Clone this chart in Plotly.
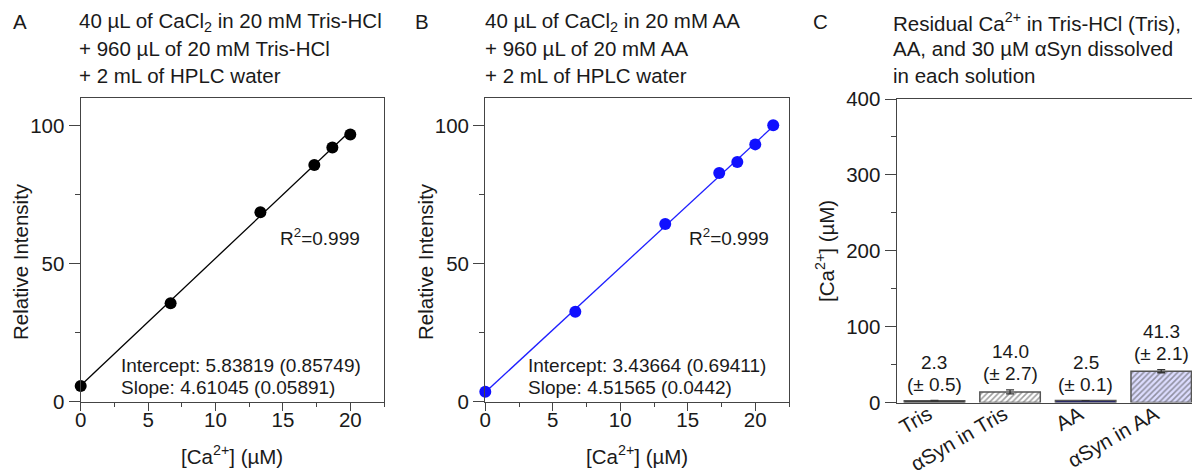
import plotly.graph_objects as go

# ---------------- data ----------------
conc_A = [0, 6.67, 13.33, 17.33, 18.67, 20]
int_A = [5.7, 35.7, 68.6, 85.7, 92.1, 96.8]
fit_A_intercept = 5.83819
fit_A_slope = 4.61045

conc_B = [0, 6.67, 13.33, 17.33, 18.67, 20, 21.33]
int_B = [3.6, 32.6, 64.4, 82.8, 86.8, 93.2, 100.1]
fit_B_intercept = 3.43664
fit_B_slope = 4.51565

categories_C = ["Tris", "αSyn in Tris", "AA", "αSyn in AA"]
values_C = [2.3, 14.0, 2.5, 41.3]
errors_C = [0.5, 2.7, 0.1, 2.1]

x_ticks_AB = [0, 5, 10, 15, 20]
y_ticks_AB = [0, 50, 100]
y_ticks_C = [0, 100, 200, 300, 400]

# ---------------- helpers ----------------
OFF = 8  # page body margin
W, H = 1200 - OFF, 471 - OFF
FONT = "Liberation Sans, Arial, sans-serif"
TXT = "#1a1a1a"
AXC = "#444444"
FS_TICK = 20.5
FS_ANN = 19
FS_TITLE = 20.5


def px(x):
    return (x - OFF) / W


def py(y):
    return 1 - (y - OFF) / H


fig = go.Figure()

# Panel A
xa_fit = [min(conc_A), max(conc_A)]
fig.add_trace(go.Scatter(x=xa_fit, y=[fit_A_intercept + fit_A_slope * v for v in xa_fit],
                         mode="lines", line=dict(color="black", width=1.3),
                         xaxis="x", yaxis="y", showlegend=False, hoverinfo="skip"))
fig.add_trace(go.Scatter(x=conc_A, y=int_A, mode="markers",
                         marker=dict(color="black", size=12),
                         xaxis="x", yaxis="y", showlegend=False, cliponaxis=False))

# Panel B
xb_fit = [min(conc_B), max(conc_B)]
fig.add_trace(go.Scatter(x=xb_fit, y=[fit_B_intercept + fit_B_slope * v for v in xb_fit],
                         mode="lines", line=dict(color="#1f1fff", width=1.3),
                         xaxis="x2", yaxis="y2", showlegend=False, hoverinfo="skip"))
fig.add_trace(go.Scatter(x=conc_B, y=int_B, mode="markers",
                         marker=dict(color="#1010ff", size=12),
                         xaxis="x2", yaxis="y2", showlegend=False, cliponaxis=False))

# Panel C
bar_fill = ["#000000", "#ffffff", "#00007a", "#ddddff"]
pat_shape = ["", "/", "", "/"]
pat_fg = ["#000000", "#7a7a7a", "#00007a", "#3c3cff"]
pat_bg = ["#000000", "#ffffff", "#00007a", "#e4e4ff"]
fig.add_trace(go.Bar(x=categories_C, y=values_C,
                     marker=dict(color=bar_fill,
                                 line=dict(color="#555555", width=1.5),
                                 pattern=dict(shape=pat_shape, fgcolor=pat_fg, bgcolor=pat_bg,
                                              size=4, solidity=0.4, fillmode="overlay")),
                     error_y=dict(type="data", array=errors_C, color="#333333",
                                  thickness=1.3, width=4),
                     xaxis="x3", yaxis="y3", showlegend=False))

dom_A = [px(80.7), px(384)]
dom_B = [px(485.3), px(789)]
dom_C = [px(896.7), px(1199)]
dom_y = [py(401.7), py(98)]
dom_yC = [py(402.5), py(99)]

base_axis = dict(showline=True, linecolor=AXC, linewidth=1.4, mirror=True,
                 ticks="outside", tickwidth=1.3, tickcolor=AXC,
                 showgrid=False, zeroline=False, automargin=False,
                 tickfont=dict(family=FONT, size=FS_TICK, color=TXT))
x_axis_style = dict(base_axis, ticklen=8, ticklabelstandoff=-9,
                    minor=dict(dtick=2.5, ticks="outside", ticklen=4, tickcolor=AXC))
y_axis_style = dict(base_axis, ticklen=11,
                    minor=dict(dtick=25, ticks="outside", ticklen=5, tickcolor=AXC))

fig.update_layout(
    template="none",
    width=W, height=H, margin=dict(l=0, r=0, t=0, b=0, pad=0, autoexpand=False),
    paper_bgcolor="white", plot_bgcolor="white",
    bargap=0.2,
    xaxis=dict(domain=dom_A, anchor="y", range=[0, 22.5], tickvals=x_ticks_AB, **x_axis_style),
    yaxis=dict(domain=dom_y, anchor="x", range=[0, 110], tickvals=y_ticks_AB, **y_axis_style),
    xaxis2=dict(domain=dom_B, anchor="y2", range=[0, 22.5], tickvals=x_ticks_AB, **x_axis_style),
    yaxis2=dict(domain=dom_y, anchor="x2", range=[0, 110], tickvals=y_ticks_AB, **y_axis_style),
    xaxis3=dict(domain=dom_C, anchor="y3", range=[-0.5, 3.5], type="category",
                showline=True, linecolor=AXC, linewidth=1.4, mirror=True, ticks="",
                tickangle=-30, showgrid=False, zeroline=False, automargin=False,
                ticklabelstandoff=-9, ticklabelshift=-6,
                tickfont=dict(family=FONT, size=FS_TICK, color=TXT)),
    yaxis3=dict(domain=dom_yC, anchor="x3", range=[0, 400], tickvals=y_ticks_C,
                **dict(y_axis_style, minor=dict(dtick=50, ticks="outside", ticklen=5, tickcolor=AXC))),
)

ann = []


def txt(x, y, s, xanchor="left", size=FS_ANN, angle=0, yanchor="middle"):
    ann.append(dict(x=px(x), y=py(y), xref="paper", yref="paper", text=s, showarrow=False,
                    xanchor=xanchor, yanchor=yanchor, textangle=angle,
                    font=dict(family=FONT, size=size, color=TXT)))


# panel letters
txt(20, 22, "A", "center", 20.5)
txt(422, 22, "B", "center", 20.5)
txt(820, 22, "C", "center", 20.5)

# titles
title_A = ["40 µL of CaCl<sub>2</sub> in 20 mM Tris-HCl", "+ 960 µL of 20 mM Tris-HCl", "+ 2 mL of HPLC water"]
title_B = ["40 µL of CaCl<sub>2</sub> in 20 mM AA", "+ 960 µL of 20 mM AA", "+ 2 mL of HPLC water"]
title_C = ["Residual Ca<sup>2+</sup> in Tris-HCl (Tris),", "AA, and 30 µM αSyn dissolved", "in each solution"]
for i, (a, b, c) in enumerate(zip(title_A, title_B, title_C)):
    yy = 22 + 26.7 * i
    txt(77, yy, a, size=FS_TITLE)
    txt(482.7, yy, b, size=FS_TITLE)
    txt(890.7, yy, c, size=FS_TITLE)

# axis titles
txt(20, 262, "Relative Intensity", "center", size=FS_TITLE, angle=-90)
txt(425, 262, "Relative Intensity", "center", size=FS_TITLE, angle=-90)
txt(825, 251, "[Ca<sup>2+</sup>] (µM)", "center", size=FS_TITLE, angle=-90)
txt(232, 455, "[Ca<sup>2+</sup>] (µM)", "center", size=FS_TITLE)
txt(637, 455, "[Ca<sup>2+</sup>] (µM)", "center", size=FS_TITLE)

# fit annotations
txt(278, 237, "R<sup>2</sup>=0.999")
txt(686.7, 237, "R<sup>2</sup>=0.999")
txt(119.3, 365, f"Intercept: {fit_A_intercept:.5f} (0.85749)")
txt(119.3, 387, f"Slope: {fit_A_slope:.5f} (0.05891)")
txt(526, 365, f"Intercept: {fit_B_intercept:.5f} (0.69411)")
txt(526, 387, f"Slope: {fit_B_slope:.5f} (0.0442)")

# bar value labels
for cat, v, e in zip(categories_C, values_C, errors_C):
    ann.append(dict(x=cat, y=v + e, xref="x3", yref="y3", text=f"(± {e:.1f})", showarrow=False,
                    xanchor="center", yanchor="middle", yshift=16,
                    font=dict(family=FONT, size=FS_ANN, color=TXT)))
    ann.append(dict(x=cat, y=v + e, xref="x3", yref="y3", text=f"{v:.1f}", showarrow=False,
                    xanchor="center", yanchor="middle", yshift=38,
                    font=dict(family=FONT, size=FS_ANN, color=TXT)))

fig.update_layout(annotations=ann)

fig.write_html("out.html")
